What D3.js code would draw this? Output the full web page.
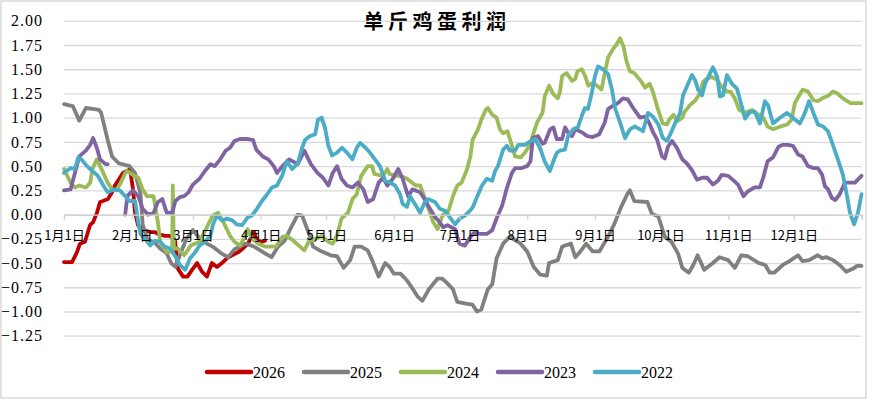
<!DOCTYPE html>
<html>
<head>
<meta charset="utf-8">
<script src="https://cdn.jsdelivr.net/npm/d3@7"></script>
<style>
  body { margin: 0; background: #fff; }
  svg { display: block; }
</style>
</head>
<body>
<div id="chart"></div>
<script>
// day of year (0 = 1月1日), profit per jin
const years = ["2026", "2025", "2024", "2023", "2022"];
const colors = ["#C00000", "#808080", "#9BBB59", "#8064A2", "#4BACC6"];
const monthDays = [0, 31, 59, 90, 120, 151, 181, 212, 243, 273, 304, 334, 365];
const monthLabels = ["1月1日", "2月1日", "3月1日", "4月1日", "5月1日", "6月1日", "7月1日", "8月1日", "9月1日", "10月1日", "11月1日", "12月1日", ""];
const yTicks = [2.00, 1.75, 1.50, 1.25, 1.00, 0.75, 0.50, 0.25, 0.00, -0.25, -0.50, -0.75, -1.00, -1.25];

const p2026 = [[0,-0.49],[3.7,-0.49],[5.9,-0.39],[7.3,-0.3],[9.6,-0.28],[11.9,-0.11],[13.3,-0.08],[15.1,0.02],[16.5,0.13],[17.8,0.14],[20.1,0.16],[22,0.23],[23.3,0.3],[25.6,0.38],[27,0.43],[28.8,0.45],[30.2,0.47],[31.6,0.26],[32.5,0.02],[33.9,-0.11],[36.2,-0.16],[39.4,-0.18],[41.6,-0.18],[43,-0.2],[46.2,-0.22],[48.5,-0.22],[50.8,-0.27],[52.2,-0.56],[54.5,-0.64],[56.5,-0.64],[58.6,-0.57],[60.9,-0.5],[63.2,-0.59],[65.4,-0.64],[67.7,-0.5],[70,-0.54],[72.3,-0.5],[74.6,-0.45],[76.9,-0.42],[79.6,-0.39],[81.9,-0.35],[84.2,-0.3],[86,-0.22],[87,-0.18],[88.3,-0.27],[90.6,-0.28],[92,-0.27]];

const p2025 = [[0,1.14],[4,1.12],[7,0.97],[10,1.10],[13,1.09],[16,1.08],[17,1.05],[20,0.77],[22,0.60],[25,0.53],[30,0.50],[32.5,0.43],[35,0.22],[36,-0.1],[38,-0.25],[42,-0.3],[44,-0.35],[47,-0.40],[49,-0.5],[51,-0.54],[53,-0.42],[56,-0.25],[59,-0.16],[63,-0.27],[68,-0.33],[72,-0.40],[75,-0.44],[78,-0.36],[83,-0.30],[87,-0.33],[92,-0.40],[95,-0.44],[98,-0.33],[101,-0.27],[104,-0.13],[107,0.0],[109,-0.01],[112,-0.19],[114,-0.33],[117,-0.37],[122,-0.42],[125,-0.43],[128,-0.55],[131,-0.47],[133,-0.33],[136,-0.33],[139,-0.37],[141,-0.47],[144,-0.64],[147,-0.5],[149,-0.54],[151,-0.61],[154,-0.61],[157,-0.68],[160,-0.78],[162,-0.85],[164,-0.89],[167,-0.77],[171,-0.66],[173,-0.66],[175,-0.70],[178,-0.77],[180,-0.9],[184,-0.92],[187,-0.93],[189,-1.0],[191,-0.98],[194,-0.77],[196,-0.72],[198,-0.45],[201,-0.3],[204,-0.23],[207,-0.27],[209,-0.30],[212,-0.38],[215,-0.54],[218,-0.62],[221,-0.63],[222,-0.5],[226,-0.47],[228,-0.33],[232,-0.3],[234,-0.44],[236,-0.39],[239,-0.3],[242,-0.38],[245,-0.38],[249,-0.23],[252,-0.09],[255,0.08],[258,0.22],[259,0.25],[261,0.14],[267,0.13],[269,0.01],[272,-0.02],[275,-0.23],[278,-0.28],[281,-0.4],[283,-0.55],[286,-0.6],[288,-0.52],[290,-0.42],[293,-0.57],[297,-0.5],[300,-0.44],[304,-0.47],[307,-0.55],[310,-0.42],[313,-0.43],[318,-0.5],[321,-0.52],[323,-0.6],[325,-0.6],[329,-0.52],[332,-0.48],[336,-0.42],[338,-0.48],[341,-0.47],[345,-0.42],[347,-0.45],[349,-0.44],[352,-0.47],[355,-0.52],[358,-0.59],[361,-0.56],[363,-0.53],[365,-0.53]];

const p2024 = [[0,0.47],[3,0.33],[5,0.28],[7,0.30],[10,0.28],[12,0.33],[13,0.47],[15,0.57],[16.5,0.5],[18,0.43],[20,0.33],[22,0.26],[24,0.25],[26,0.33],[28,0.43],[29,0.45],[32,0.4],[34,0.38],[36,0.26],[38,0.19],[41,0.19],[43,-0.08],[44,-0.28],[47,-0.39],[49.5,-0.38],[49.8,0.3],[50.3,-0.35],[52,-0.35],[55,-0.42],[58,-0.32],[62,-0.28],[65,-0.15],[68,-0.01],[70.5,0.02],[73,-0.08],[76,-0.22],[78,-0.28],[80.5,-0.32],[83,-0.22],[84,-0.15],[86,-0.25],[89,-0.3],[92,-0.33],[97,-0.33],[100,-0.23],[102,-0.22],[105,-0.27],[108,-0.33],[110,-0.37],[112,-0.28],[115,-0.25],[118,-0.22],[121,-0.28],[123,-0.3],[125,-0.21],[127,-0.04],[130,0.02],[132,0.16],[134,0.21],[136,0.4],[139,0.5],[141,0.5],[142,0.42],[146,0.4],[148,0.47],[149,0.42],[152,0.4],[154,0.4],[157,0.37],[161,0.3],[163,0.3],[165,0.18],[167.5,0.02],[169,-0.08],[171,-0.15],[172,-0.08],[173.5,0.0],[176,0.04],[178,0.19],[180,0.3],[182,0.33],[184.5,0.47],[186,0.6],[187,0.77],[189.5,0.88],[191,0.98],[193,1.08],[194,1.1],[196,1.03],[198,1.0],[199.5,0.88],[201,0.84],[203,0.86],[205,0.71],[206.5,0.6],[209,0.59],[211,0.64],[213,0.71],[214,0.78],[216.5,0.95],[219,1.05],[220,1.22],[222,1.33],[224,1.24],[226,1.2],[227,1.27],[228,1.43],[230,1.46],[232.5,1.38],[234,1.4],[235,1.48],[237,1.5],[238.5,1.43],[240,1.33],[242,1.36],[244,1.33],[246,1.29],[247.5,1.46],[249,1.62],[251,1.7],[253,1.76],[254.5,1.82],[256,1.74],[257.5,1.58],[259,1.48],[261,1.46],[264,1.38],[266,1.31],[268,1.35],[269.5,1.27],[271.5,1.11],[273,1.01],[274,0.94],[276,0.93],[277,0.98],[279,1.03],[280.5,0.96],[283,1.0],[284,1.06],[286.5,1.13],[289,1.18],[291,1.25],[292.5,1.37],[294,1.4],[296.5,1.42],[299,1.39],[301,1.32],[303.5,1.27],[305,1.27],[307,1.2],[309,1.08],[311.5,1.05],[315,1.08],[318,1.03],[320,1.0],[322,0.91],[324.5,0.88],[328,0.91],[331,0.93],[333,0.98],[334.5,1.15],[337,1.25],[338,1.29],[340.5,1.27],[343,1.18],[345,1.17],[347,1.2],[350,1.23],[352,1.27],[354,1.25],[356.5,1.2],[360,1.15],[362,1.15],[365,1.15]];

const p2023 = [[0,0.25],[3,0.26],[5,0.43],[7,0.6],[10,0.66],[12,0.72],[13.3,0.79],[15,0.69],[16.5,0.57],[19,0.52],[20,0.52],[24,null],[28,0.0],[29,0.19],[31.5,0.25],[34,0.19],[36,0.06],[38.5,0.0],[41,0.02],[43,0.13],[45,0.16],[47,0.02],[49.5,0.02],[51,0.14],[53,0.18],[55,0.19],[57,0.23],[59,0.31],[62,0.37],[64.5,0.45],[67,0.52],[69,0.5],[71.5,0.57],[74,0.66],[76,0.69],[78,0.76],[80.5,0.78],[84,0.78],[86.5,0.77],[88,0.67],[91,0.6],[93.5,0.57],[96,0.5],[97.5,0.43],[100,0.5],[103,0.57],[107,0.52],[110,0.66],[113,0.52],[116,0.43],[118.5,0.38],[121,0.3],[123,0.43],[125,0.5],[127,0.37],[129.5,0.3],[132,0.28],[134.5,0.33],[137,0.26],[139,0.13],[141.5,0.16],[144,0.33],[146,0.38],[148,0.3],[150.5,0.37],[153,0.47],[155,0.37],[157.5,0.19],[159.5,0.26],[163,0.23],[165,0.16],[167.5,0.06],[170,-0.03],[172,-0.08],[173.5,-0.13],[175.5,-0.11],[179,-0.15],[181,-0.3],[183.5,-0.32],[186,-0.23],[188,-0.18],[190.5,-0.2],[193.5,-0.2],[196,-0.16],[198,-0.04],[200.5,0.09],[202.5,0.26],[205,0.43],[206.5,0.48],[209.5,0.48],[212,0.5],[213.5,0.55],[214.6,0.79],[217,0.81],[219,0.73],[220,0.74],[222.5,0.88],[224,0.9],[225.5,0.78],[228,0.78],[229.3,0.9],[230.7,0.85],[232.5,0.81],[234,0.88],[237,0.85],[239.5,0.81],[242,0.8],[245,0.83],[247.5,0.95],[249,1.09],[251,1.12],[253.5,1.15],[255.8,1.2],[258,1.19],[260.5,1.1],[263.6,1.0],[266,1.01],[268,0.94],[269.6,0.85],[271.5,0.77],[273.7,0.6],[275,0.58],[276.4,0.7],[278.3,0.76],[280.5,0.69],[283,0.57],[285,0.53],[287.4,0.46],[289.7,0.36],[292,0.38],[294.3,0.38],[297,0.31],[299.3,0.35],[301,0.41],[304,0.4],[306,0.36],[308.5,0.31],[311,0.19],[313,0.24],[316,0.28],[318.5,0.28],[320,0.38],[322,0.55],[324.5,0.59],[327,0.7],[329,0.72],[331.4,0.72],[333.6,0.71],[336,0.62],[338,0.6],[340.5,0.5],[343,0.48],[345,0.48],[347,0.41],[348.3,0.29],[349.7,0.26],[351.5,0.17],[353,0.15],[355,0.21],[357.4,0.33],[360,0.33],[362,0.33],[365,0.4]];

const p2022 = [[0,0.43],[3,0.48],[5,0.47],[6.5,0.59],[8,0.57],[10.5,0.5],[13,0.45],[15.5,0.4],[18,0.3],[20,0.23],[23,0.26],[25.5,0.25],[28,0.19],[30,0.14],[32.5,0.14],[34,-0.08],[35,-0.2],[37,-0.25],[39.5,-0.32],[41.5,-0.27],[44,-0.28],[46,-0.33],[48.5,-0.35],[51.5,-0.45],[53,-0.52],[55.5,-0.57],[57.7,-0.45],[60,-0.39],[62,-0.32],[64.5,-0.28],[67,-0.22],[68.2,-0.1],[70,-0.01],[72.3,-0.06],[74.6,-0.04],[77,-0.06],[79,-0.1],[81.5,-0.11],[84,-0.03],[86,-0.01],[88.3,0.06],[90.6,0.14],[93,0.21],[95.2,0.28],[97.5,0.3],[99.8,0.4],[102,0.55],[104.5,0.47],[107,0.53],[109,0.69],[110.3,0.77],[112.6,0.81],[115,0.83],[116.2,0.98],[118,1.0],[119.5,0.89],[121,0.71],[122.7,0.61],[125,0.64],[127.2,0.69],[129.5,0.64],[132,0.57],[134,0.69],[135.5,0.74],[138,0.69],[140,0.64],[142.3,0.57],[144.6,0.5],[147,0.35],[149.2,0.33],[151.5,0.3],[153.8,0.21],[155,0.11],[157,0.08],[158.4,0.19],[160.6,0.11],[163,0.02],[165.2,0.13],[166.6,0.16],[169.8,0.13],[172,0.06],[174.4,0.04],[177.6,-0.06],[179,-0.1],[181.2,-0.04],[183.5,-0.01],[185.8,0.04],[187.2,0.08],[189,0.18],[191.3,0.3],[193.6,0.37],[196,0.35],[197.3,0.45],[198.6,0.5],[201,0.67],[202.7,0.71],[204.1,0.66],[206.4,0.66],[208,0.72],[211,0.72],[213,0.75],[215.6,0.78],[217.8,0.69],[220,0.55],[222.4,0.45],[223.8,0.54],[225.6,0.64],[227,0.66],[229.3,0.67],[230.7,0.81],[233,0.88],[235.2,0.9],[237,1.02],[238.4,1.1],[239.8,1.09],[241.6,1.26],[243,1.43],[244.4,1.53],[246.7,1.5],[249,1.45],[250.8,1.29],[252.2,1.1],[254.5,0.95],[256.8,0.79],[259,0.88],[261.3,0.91],[263.6,0.88],[265,0.86],[267.3,1.05],[269.6,1.01],[272,0.93],[274.1,0.79],[276,0.76],[277.3,0.82],[279.6,0.94],[282,1.05],[283.3,1.23],[285.6,1.35],[287.4,1.44],[288.8,1.39],[290.2,1.29],[292,1.23],[293.4,1.35],[295.7,1.46],[297,1.52],[299,1.42],[300.2,1.22],[301.6,1.23],[303.4,1.44],[305.7,1.35],[308,1.3],[310.3,1.11],[311.7,0.99],[314,1.06],[316.2,1.06],[318.5,0.94],[320.8,1.17],[322.2,1.13],[324.5,0.94],[327.7,1.0],[330.9,1.05],[333.6,1.0],[336.8,0.94],[339.1,1.05],[341,1.17],[342.8,1.06],[345.1,0.93],[347.4,0.91],[349.7,0.86],[351.9,0.72],[354.2,0.57],[356.5,0.41],[358.4,0.19],[359.7,0.02],[361.6,-0.1],[363.4,0.02],[365,0.21]];

const series = [p2026, p2025, p2024, p2023, p2022];

var SERIF = "'Liberation Serif', 'Times New Roman', serif";
var CJK = "'Noto Sans CJK SC', sans-serif";

var svg = d3.select("#chart").append("svg")
    .attr("width", 877)
    .attr("height", 401);

// outer chart border
svg.append("rect")
    .attr("x", 1).attr("y", 1)
    .attr("width", 865).attr("height", 397)
    .attr("fill", "#fff")
    .attr("stroke", "#d9d9d9")
    .attr("stroke-width", 1.5);

var x = d3.scaleLinear().domain([0, 365]).range([64, 861.5]);
var y = d3.scaleLinear().domain([-1.25, 2]).range([335.7, 20.8]);

// title
svg.append("text")
    .attr("x", 437).attr("y", 29)
    .attr("text-anchor", "middle")
    .style("font-family", CJK)
    .style("font-weight", "bold")
    .style("font-size", "20px")
    .style("letter-spacing", "4.5px")
    .style("fill", "#000")
    .text("单斤鸡蛋利润");

// y axis with gridlines
var yAxis = svg.append("g")
    .attr("transform", "translate(64,0)")
    .call(d3.axisLeft(y).tickValues(yTicks).tickFormat(d3.format(".2f"))
        .tickSize(-(861.5 - 64)).tickPadding(21));
yAxis.select(".domain").remove();
yAxis.selectAll(".tick line")
    .attr("stroke", "#d9d9d9")
    .attr("stroke-width", 1.3);
yAxis.selectAll(".tick text")
    .style("font-family", SERIF)
    .style("font-size", "16px")
    .style("letter-spacing", "1px")
    .style("fill", "#000");

// series lines
var line = d3.line()
    .defined(function (d) { return d[1] != null; })
    .x(function (d) { return x(d[0]); })
    .y(function (d) { return y(d[1]); });

series.forEach(function (s, i) {
    svg.append("path")
        .datum(s)
        .attr("fill", "none")
        .attr("stroke", colors[i])
        .attr("stroke-width", 3.8)
        .attr("stroke-linejoin", "round")
        .attr("stroke-linecap", "round")
        .attr("d", line);
});

// x axis at zero
var xAxis = svg.append("g")
    .attr("transform", "translate(0," + y(0) + ")")
    .call(d3.axisBottom(x).tickValues(monthDays)
        .tickFormat(function (d, i) { return monthLabels[i]; })
        .tickSize(5).tickPadding(11));
xAxis.select(".domain")
    .attr("stroke", "#d0d0d0")
    .attr("stroke-width", 1.3);
xAxis.selectAll(".tick line")
    .attr("stroke", "#d0d0d0")
    .attr("stroke-width", 1.3);
xAxis.selectAll(".tick text")
    .style("font-family", CJK)
    .style("font-size", "13px")
    .style("fill", "#000");

// legend
var legend = svg.append("g");
years.forEach(function (yr, i) {
    var lx = 207 + i * 97;
    legend.append("line")
        .attr("x1", lx).attr("x2", lx + 44)
        .attr("y1", 372).attr("y2", 372)
        .attr("stroke", colors[i])
        .attr("stroke-width", 4.5)
        .attr("stroke-linecap", "round");
    legend.append("text")
        .attr("x", lx + 46).attr("y", 378)
        .style("font-family", SERIF)
        .style("font-size", "16px")
        .style("fill", "#000")
        .text(yr);
});
</script>
</body>
</html>
